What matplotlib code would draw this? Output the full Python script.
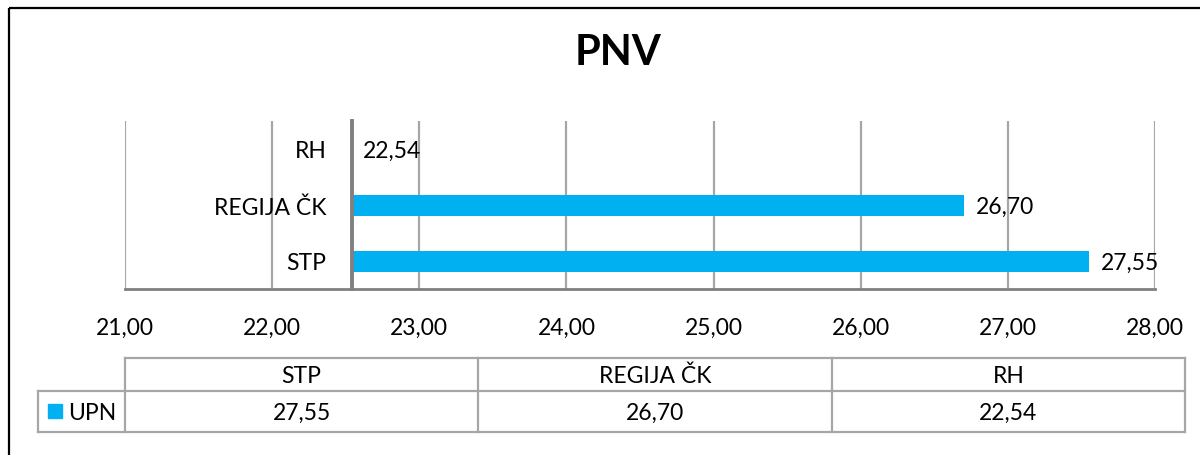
import matplotlib
matplotlib.use("Agg")
import matplotlib.pyplot as plt
from matplotlib.patches import Rectangle

# ---- data ----
title = "PNV"
series_name = "UPN"
categories = ["STP", "REGIJA ČK", "RH"]
values = [27.55, 26.70, 22.54]
x_ticks = [21, 22, 23, 24, 25, 26, 27, 28]
axis_cross = 22.54  # value at which the category axis crosses

BLUE = "#00B0F0"
GRID = "#A6A6A6"
AXIS = "#808080"
FONT = "Lato"

def fmt(v):
    return f"{v:.2f}".replace(".", ",")

W, H = 1200, 456
fig = plt.figure(figsize=(W / 100, H / 100), dpi=100)
plt.rcParams["font.family"] = [FONT, "DejaVu Sans"]

# overlay axes in pixel coordinates for frame / table
ov = fig.add_axes([0, 0, 1, 1])
ov.set_xlim(0, W)
ov.set_ylim(H, 0)
ov.axis("off")
ov.add_patch(Rectangle((9, 9), W + 20, H + 20, fill=False, ec="black", lw=1.6))

# main plot axes
L, T, R, B = 125, 122, 1155, 290
ax = fig.add_axes([L / W, 1 - B / H, (R - L) / W, (B - T) / H])
for s in ("top", "right"):
    ax.spines[s].set_visible(False)
ax.spines["bottom"].set_color(AXIS)
ax.spines["bottom"].set_linewidth(2)
ax.spines["left"].set_position(("data", axis_cross))
ax.spines["left"].set_color(AXIS)
ax.spines["left"].set_linewidth(2.8)
ax.spines["left"].set_zorder(5)

ypos = list(range(len(categories)))
ax.barh(ypos, [v - axis_cross for v in values], left=axis_cross,
        height=0.375, color=BLUE, zorder=3)
for y, v in zip(ypos, values):
    ax.text(v + 0.08, y - 0.02, fmt(v), va="center", ha="left",
            fontsize=16.5, color="black", zorder=4)

ax.set_xlim(x_ticks[0], x_ticks[-1])
ax.set_ylim(-0.5, len(categories) - 0.5)
ax.set_xticks(x_ticks)
ax.set_xticklabels([fmt(t) for t in x_ticks], fontsize=16.5)
ax.set_yticks(ypos)
ax.set_yticklabels(categories, fontsize=16.5)
ax.tick_params(axis="x", length=0, pad=20)
ax.tick_params(axis="y", length=0, pad=18)
ax.grid(axis="x", color=GRID, lw=1.6, zorder=0)
ax.set_axisbelow(True)

# title
ov.text(618, 53, title, ha="center", va="center",
        fontsize=30, fontweight="bold")

# data table
ncol = len(categories)
tl, tr = L, 1185
cw = (tr - tl) / ncol
top, mid, bot = 359, 392, 433
leg_l = 38
lc = GRID
lw = 1.6
ov.plot([tl, tr], [top, top], color=lc, lw=lw)
ov.plot([leg_l, tr], [mid, mid], color=lc, lw=lw)
ov.plot([leg_l, tr], [bot, bot], color=lc, lw=lw)
ov.plot([leg_l, leg_l], [mid, bot], color=lc, lw=lw)
for i in range(ncol + 1):
    x = tl + i * cw
    ov.plot([x, x], [top, bot], color=lc, lw=lw)
for i, (c, v) in enumerate(zip(categories, values)):
    cx = tl + (i + 0.5) * cw
    ov.text(cx, (top + mid) / 2 + 1, c, ha="center", va="center", fontsize=16.5)
    ov.text(cx, (mid + bot) / 2 + 1, fmt(v), ha="center", va="center", fontsize=16.5)
ov.add_patch(Rectangle((48, 405), 14, 14, color=BLUE))
ov.text(68, (mid + bot) / 2 + 1, series_name, ha="left", va="center", fontsize=16.5)

fig.savefig("out.png", dpi=100)
